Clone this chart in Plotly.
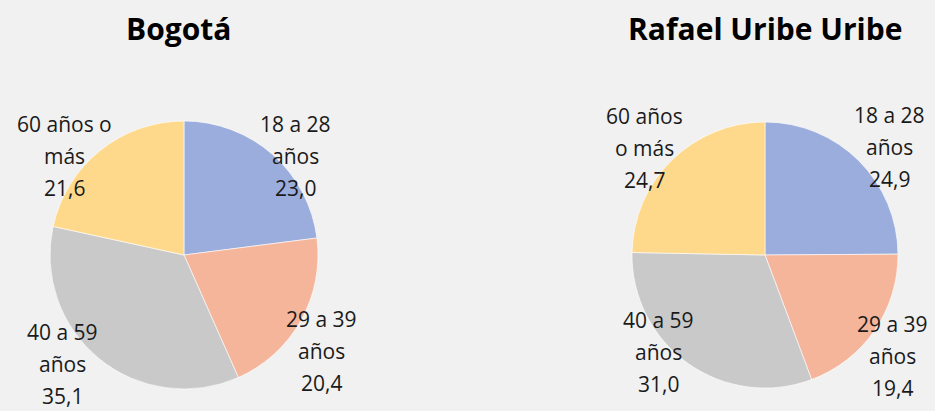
import plotly.graph_objects as go

categories = ["18 a 28 años", "29 a 39 años", "40 a 59 años", "60 años o más"]
bogota_values = [23.0, 20.4, 35.1, 21.6]
rafael_values = [24.9, 19.4, 31.0, 24.7]
bogota_label_lines = [["18 a 28", "años"], ["29 a 39", "años"], ["40 a 59", "años"], ["60 años o", "más"]]
rafael_label_lines = [["18 a 28", "años"], ["29 a 39", "años"], ["40 a 59", "años"], ["60 años", "o más"]]
titles = ["Bogotá", "Rafael Uribe Uribe"]

colors = ["#9BADDD", "#F5B59B", "#C9C9C9", "#FFD98B"]

W, H = 935, 411
fig = go.Figure()

# pie geometry (pixels): center x, center y, radius
pies = [
    dict(values=bogota_values, lines=bogota_label_lines, cx=184, cy=255, r=134,
         # label center offsets (pixels, from pie center)
         offs=[(111, -99), (137, 96), (-122, 109), (-120, -99)], title_x=178),
    dict(values=rafael_values, lines=rafael_label_lines, cx=765, cy=255, r=133,
         offs=[(124, -108), (127, 101), (-107, 97), (-121, -107)], title_x=765),
]

ann = []
for p, title in zip(pies, titles):
    cx, cy, r = p["cx"], p["cy"], p["r"]
    fig.add_trace(go.Pie(
        labels=categories, values=p["values"], sort=False, direction="clockwise",
        rotation=0, textinfo="none", hoverinfo="label+value",
        marker=dict(colors=colors, line=dict(color="rgba(255,255,255,0.6)", width=1)),
        domain=dict(x=[(cx - r) / W, (cx + r) / W], y=[1 - (cy + r) / H, 1 - (cy - r) / H]),
        showlegend=False,
    ))
    for v, lines, (dx, dy) in zip(p["values"], p["lines"], p["offs"]):
        all_lines = lines + [f"{v:.1f}".replace(".", ",")]
        n = len(all_lines)
        for i, t in enumerate(all_lines):
            ly = cy + dy + (i - (n - 1) / 2) * 32
            ann.append(dict(x=(cx + dx) / W, y=1 - ly / H, xref="paper", yref="paper",
                            text=t, showarrow=False, xanchor="center", yanchor="middle",
                            font=dict(family="Open Sans", size=21, color="#1a1a1a")))
    ann.append(dict(x=p["title_x"] / W, y=1 - 28 / H, xref="paper", yref="paper",
                    text=title, showarrow=False, xanchor="center", yanchor="middle",
                    font=dict(family="Open Sans", size=30, color="#000000", weight=700)))

fig.update_layout(
    width=W, height=H, margin=dict(l=0, r=0, t=0, b=0),
    paper_bgcolor="#F1F1F1", plot_bgcolor="#F1F1F1",
    annotations=ann,
)
fig.write_html("out.html", config={"displayModeBar": False},
               post_script="document.body.style.margin='0';document.body.style.overflow='hidden';")
